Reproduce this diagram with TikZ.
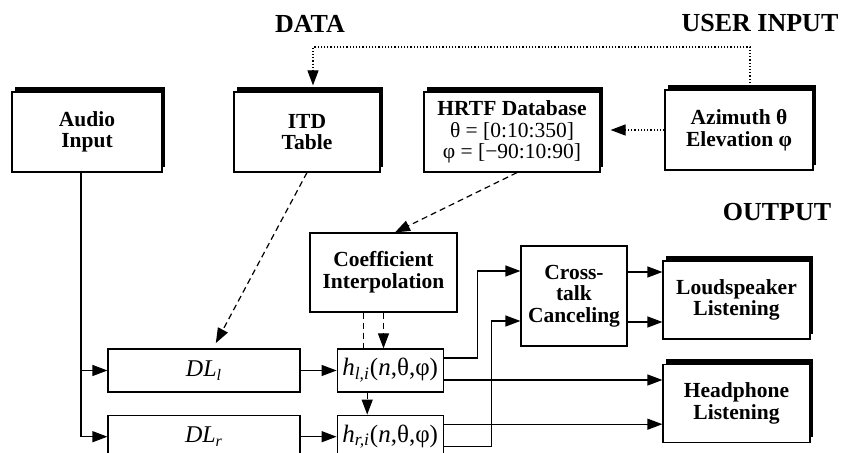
\documentclass[tikz,border=0pt]{standalone}
\usepackage{fontspec}
\setmainfont{Liberation Serif}
\usetikzlibrary{arrows.meta,positioning,shadows}

\begin{document}
\begin{tikzpicture}[x=0.5pt,y=-0.5pt]

	\tikzstyle{block}=[rectangle,draw,fill=white,semithick,
		align=center,inner sep=1mm,
		font=\fontsize{10.75}{10.8}\selectfont\bfseries]
	\tikzstyle{shadowed}=[block,drop shadow={shadow xshift=1.5pt,
		shadow yshift=2.6pt,fill=black,opacity=1}]
	\tikzstyle{delay}=[block,font=\fontsize{12}{13}\selectfont,
		minimum width=96pt,minimum height=21.5pt]
	\tikzstyle{filter}=[block,font=\fontsize{12.5}{13}\selectfont,
		minimum width=53pt,minimum height=21.5pt,inner sep=0.5mm]
	\tikzstyle{heading}=[font=\fontsize{13}{15}\selectfont\bfseries]
	\tikzstyle{arrow}=[-{Triangle[length=7.5pt,width=5.5pt]},semithick]
	\tikzstyle{dotarrow}=[arrow,densely dotted]
	\tikzstyle{dashline}=[semithick,dash pattern=on 3pt off 2pt]
	\tikzstyle{dasharrow}=[arrow,dash pattern=on 3pt off 2pt]

	\useasboundingbox (0,0) rectangle (843,453);

	\node[heading](datatitle) at (310,24){DATA};
	\node[heading](usertitle) at (760,23){USER INPUT};
	\node[heading](outtitle) at (777,212){OUTPUT};

	\node[shadowed,minimum width=75pt,minimum height=40pt](audio) at (87,132){Audio\\Input};
	\node[shadowed,minimum width=73pt,minimum height=40pt](itd) at (307,132){ITD\\Table};
	\node[shadowed,minimum width=88pt,minimum height=40pt](hrtf) at (512,132){HRTF Database\\{\mdseries θ = [0:10:350]}\\{\mdseries φ = [−90:10:90]}};
	\node[shadowed,minimum width=74pt,minimum height=40pt](angles) at (739,130){Azimuth θ\\Elevation φ};
	\node[block,minimum width=73.5pt,minimum height=39.5pt](coef) at (383.5,272.5){Coefficient\\Interpolation};
	\node[block,minimum width=53pt,minimum height=50pt](cross) at (574,296){Cross-\\talk\\Canceling};
	\node[shadowed,minimum width=73.5pt,minimum height=39pt](speaker) at (736.5,300){Loudspeaker\\Listening};
	\node[shadowed,minimum width=73.5pt,minimum height=39pt,below=12pt of speaker](phone){Headphone\\Listening};
	\node[delay](dll) at (204,370.5){\textit{DL}\textsubscript{\textit{l}}};
	\node[delay,below=11pt of dll](dlr){\textit{DL}\textsubscript{\textit{r}}};
	\node[filter,right=18pt of dll](hl){\textit{h}\textsubscript{\textit{l,i}}(\textit{n},θ,φ)};
	\node[filter,right=18pt of dlr](hr){\textit{h}\textsubscript{\textit{r,i}}(\textit{n},θ,φ)};

	% user input to the tables
	\coordinate (userup) at (750,47);
	\coordinate (itdin) at (313,47);
	\draw[dotarrow,shorten >=3pt] (angles.north -| userup) -- (userup) -- (itdin) -- (itdin |- itd.north);
	\draw[dotarrow,shorten >=5pt] (angles.west) -- (angles.west -| hrtf.east);
	\draw[dasharrow,shorten >=3pt] (itd.south) -- ([xshift=4.5pt]dll.north);
	\draw[dasharrow] ([xshift=2.5pt]hrtf.south) -- ([xshift=5.75pt]coef.north);

	% coefficients to the filters
	\coordinate (coefl) at ([xshift=-10pt]coef.south);
	\draw[dashline] (coefl) -- (coefl |- hl.north);
	\draw[dasharrow] (coef.south) -- (coef.south |- hl.north);
	\coordinate (hlbot) at ([xshift=-11.5pt]hl.south);
	\draw[dasharrow] (hlbot) -- (hlbot |- hr.north);

	% audio path
	\coordinate (audiodown) at ([xshift=-3pt]audio.south);
	\draw[arrow] (audiodown) |- (dlr);
	\draw[arrow] (audiodown |- dll) -- (dll);
	\draw[arrow] (dll) -- (hl);
	\draw[arrow] (dlr) -- (hr);

	\draw[arrow] ([yshift=6.25pt]hl.east) -- ++(17pt,0) |- ([yshift=12.5pt]cross.west);
	\draw[arrow] ([yshift=-4.75pt]hr.east) -- ++(24pt,0) |- ([yshift=-12.5pt]cross.west);
	\coordinate (hlout) at ([yshift=-4.75pt]hl.east);
	\draw[arrow] (hlout) -- (hlout -| phone.west);
	\coordinate (hrout) at ([yshift=6.25pt]hr.east);
	\draw[arrow] (hrout) -- (hrout -| phone.west);
	\coordinate (crossup) at ([yshift=12pt]cross.east);
	\draw[arrow] (crossup) -- (crossup -| speaker.west);
	\coordinate (crossdown) at ([yshift=-13pt]cross.east);
	\draw[arrow] (crossdown) -- (crossdown -| speaker.west);

\end{tikzpicture}
\end{document}
